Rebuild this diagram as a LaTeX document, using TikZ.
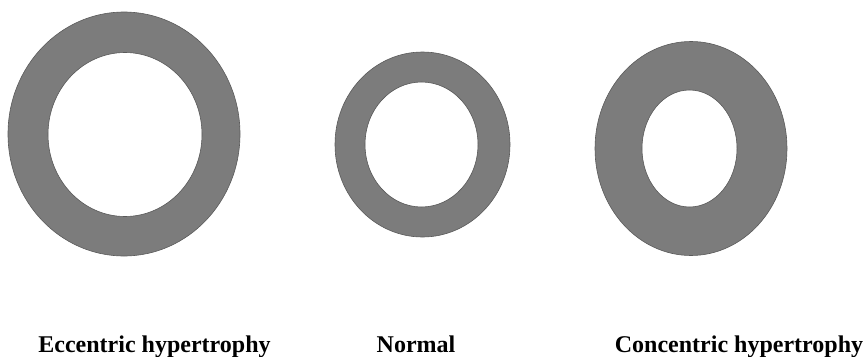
\documentclass[tikz,border=0pt]{standalone}
\usepackage{fontspec}
\setmainfont{Liberation Serif}
\definecolor{wall}{HTML}{7C7C7C}
\definecolor{walledge}{HTML}{5A5A5A}
\tikzset{
  ring/.style={fill=wall, draw=walledge, line width=0.6pt, even odd rule},
  label/.style={anchor=base, inner sep=0pt, font=\bfseries\fontsize{24}{28}\selectfont}
}
\begin{document}
\begin{tikzpicture}[x=1pt,y=-1pt]
\useasboundingbox (0,0) rectangle (864,356);
% eccentric
\path[ring] (124,134) ellipse [x radius=116, y radius=122]
            (125,134.5) ellipse [x radius=77, y radius=82];
% normal
\path[ring] (422.5,144.5) ellipse [x radius=87.5, y radius=92.5]
            (421.5,144.5) ellipse [x radius=56.5, y radius=62.5];
% concentric
\path[ring] (691,148.5) ellipse [x radius=96, y radius=107]
            (689.5,148.5) ellipse [x radius=47.5, y radius=58.5];
\node[label] (ecc) at (154.5,352) {Eccentric hypertrophy};
\node[label] (nor) at (416,352) {Normal};
\node[label] (con) at (739,352) {Concentric hypertrophy};
\end{tikzpicture}
\end{document}
